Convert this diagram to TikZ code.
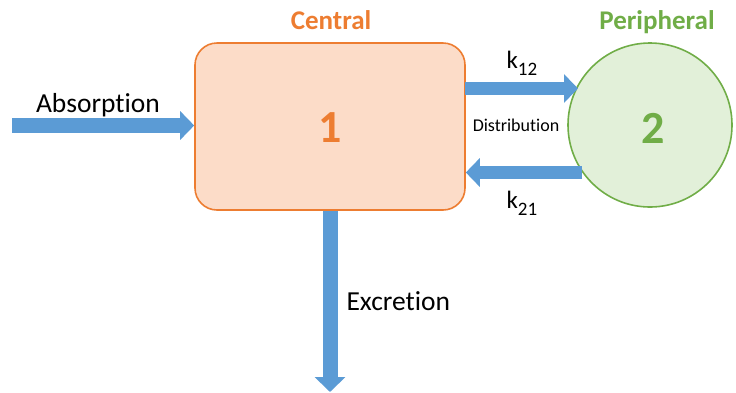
\documentclass[tikz,border=0pt]{standalone}
\usepackage{fontspec}
\setmainfont[Ligatures=NoCommon]{Carlito}
\usetikzlibrary{arrows.meta}
\definecolor{flowblue}{HTML}{5B9BD5}
\definecolor{centralorange}{HTML}{ED7D31}
\definecolor{centralfill}{HTML}{FCDCC8}
\definecolor{periphgreen}{HTML}{70AD47}
\definecolor{periphfill}{HTML}{E2F0D9}
\newcommand{\ratesub}[1]{\raisebox{-0.3em}{\fontsize{19}{21}\selectfont #1}}
\tikzset{
  compbox/.style={draw=centralorange, line width=1.6pt, fill=centralfill,
    rounded corners=22pt, minimum width=270pt, minimum height=167pt, inner sep=0pt},
  compcircle/.style={circle, draw=periphgreen, line width=1.6pt, fill=periphfill,
    minimum size=164pt, inner sep=0pt},
  flowarrow/.style={draw=flowblue, line width=#1,
    -{Triangle[length=14pt, width=28pt, fill=flowblue]}},
  flowarrow/.default=13pt,
  biglabel/.style={font=\fontsize{27.5}{32}\selectfont, anchor=base},
  titlelabel/.style={font=\fontsize{27}{32}\selectfont\bfseries, anchor=base},
  smalllabel/.style={font=\fontsize{18}{22}\selectfont, anchor=base},
  ratelabel/.style={font=\fontsize{25}{30}\selectfont, anchor=base west},
  numlabel/.style={font=\fontsize{46}{52}\selectfont\bfseries}
}
\begin{document}
\begin{tikzpicture}[x=1pt, y=-1pt]
  \useasboundingbox (0,0) rectangle (736,392);

  % compartments
  \node[compbox] (c1) at (330,126.5) {};
  \node[compcircle] (p2) at (650,125) {};
  \node[numlabel, text=centralorange] (n1) at (330,128) {1};
  \node[numlabel, text=periphgreen] (n2) at (653,128) {2};

  % compartment titles
  \node[titlelabel, text=centralorange] (tc) at (331,29) {Central};
  \node[titlelabel, text=periphgreen] (tp) at (657,29) {Peripheral};

  % absorption into the central compartment
  \coordinate (absin) at (12,125.5);
  \draw[flowarrow=15pt] (absin) -- (absin -| c1.west);
  \node[biglabel] (labs) at (98,112) {Absorption};

  % distribution between compartments
  \coordinate (k12a) at (465,88.5);
  \coordinate (k12b) at (578,88.5);
  \draw[flowarrow] (k12a) -- (k12b);
  \coordinate (k21a) at (p2.215);
  \draw[flowarrow] (k21a) -- (k21a -| c1.east);
  \node[smalllabel] (ldist) at (516,131) {Distribution};
  \node[ratelabel] (lk12) at (503,68) {k\ratesub{12}};
  \node[ratelabel] (lk21) at (503,208) {k\ratesub{21}};

  % excretion from the central compartment
  \coordinate (excout) at (330,392);
  \draw[flowarrow=15pt, -{Triangle[length=15pt, width=30pt, fill=flowblue]}] (c1.south) -- (excout);
  \node[biglabel, anchor=base west] (lexc) at (343,310) {Excretion};
\end{tikzpicture}
\end{document}
